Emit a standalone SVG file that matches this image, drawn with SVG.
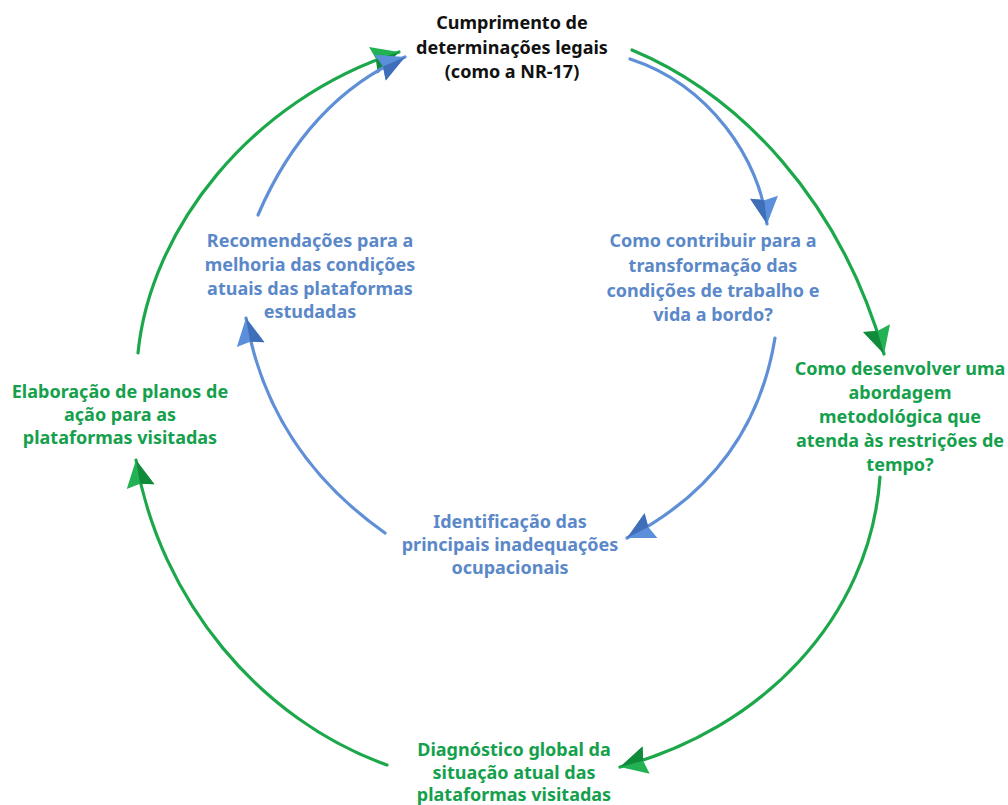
<svg xmlns="http://www.w3.org/2000/svg" width="1008" height="805" viewBox="0 0 1008 805">
<defs>
<style>
.t{font-family:"Noto Sans","Liberation Sans",sans-serif;font-weight:700;font-size:18px;text-anchor:middle}
.k{fill:#111}
.b{fill:#5b88c8}
.g{fill:#14a04c}
.lb{fill:none;stroke:#5f8fd6;stroke-width:3.2;stroke-linecap:round}
.lg{fill:none;stroke:#1ca84a;stroke-width:3.2;stroke-linecap:round}
</style>
<marker id="ab" viewBox="-30 -16 32 32" refX="0" refY="0" markerWidth="32" markerHeight="32" markerUnits="userSpaceOnUse" orient="auto">
<path d="M0,0 L-27,-14 L-24,0 L-27,14 Z" fill="#5b8fdc"/>
<path d="M0,0 L-24,0 L-27,14 Z" fill="#3f6fb8"/>
</marker>
<marker id="ag" viewBox="-30 -16 32 32" refX="0" refY="0" markerWidth="32" markerHeight="32" markerUnits="userSpaceOnUse" orient="auto">
<path d="M0,0 L-27,-14 L-24,0 L-27,14 Z" fill="#22b254"/>
<path d="M0,0 L-24,0 L-27,14 Z" fill="#118a3c"/>
</marker>
</defs>
<rect width="1008" height="805" fill="#ffffff"/>
<g id="connectors">
<path class="lg" d="M632,50 C740,95 840,200 884,354" marker-end="url(#ag)"/>
<path class="lg" d="M880,477 C870,620 760,730 620,767" marker-end="url(#ag)"/>
<path class="lg" d="M387,765 C260,720 160,600 136,460" marker-end="url(#ag)"/>
<path class="lg" d="M138,353 C150,230 250,100 399,52" marker-end="url(#ag)"/>
<path class="lb" d="M630,59 C710,85 760,160 767,224" marker-end="url(#ab)"/>
<path class="lb" d="M775,338 C760,430 710,495 627,538" marker-end="url(#ab)"/>
<path class="lb" d="M385,533 C310,480 262,410 246,318" marker-end="url(#ab)"/>
<path class="lb" d="M258,215 C290,140 340,85 405,57" marker-end="url(#ab)"/>
</g>
<g id="n-cumprimento">
<text class="t k" x="512" y="29">Cumprimento de</text>
<text class="t k" x="512" y="54">determinações legais</text>
<text class="t k" x="512" y="78">(como a NR-17)</text>
</g>
<g id="n-contribuir">
<text class="t b" x="713" y="247">Como contribuir para a</text>
<text class="t b" x="713" y="272">transformação das</text>
<text class="t b" x="713" y="297">condições de trabalho e</text>
<text class="t b" x="713" y="321">vida a bordo?</text>
</g>
<g id="n-abordagem">
<text class="t g" x="900" y="375">Como desenvolver uma</text>
<text class="t g" x="900" y="399">abordagem</text>
<text class="t g" x="900" y="423">metodológica que</text>
<text class="t g" x="900" y="447">atenda às restrições de</text>
<text class="t g" x="900" y="471">tempo?</text>
</g>
<g id="n-identificacao">
<text class="t b" x="510" y="528">Identificação das</text>
<text class="t b" x="510" y="551">principais inadequações</text>
<text class="t b" x="510" y="574">ocupacionais</text>
</g>
<g id="n-diagnostico">
<text class="t g" x="514" y="756">Diagnóstico global da</text>
<text class="t g" x="514" y="779">situação atual das</text>
<text class="t g" x="514" y="801">plataformas visitadas</text>
</g>
<g id="n-elaboracao">
<text class="t g" x="120" y="398">Elaboração de planos de</text>
<text class="t g" x="120" y="421">ação para as</text>
<text class="t g" x="120" y="444">plataformas visitadas</text>
</g>
<g id="n-recomendacoes">
<text class="t b" x="310" y="247">Recomendações para a</text>
<text class="t b" x="310" y="271">melhoria das condições</text>
<text class="t b" x="310" y="295">atuais das plataformas</text>
<text class="t b" x="310" y="318">estudadas</text>
</g>
</svg>
